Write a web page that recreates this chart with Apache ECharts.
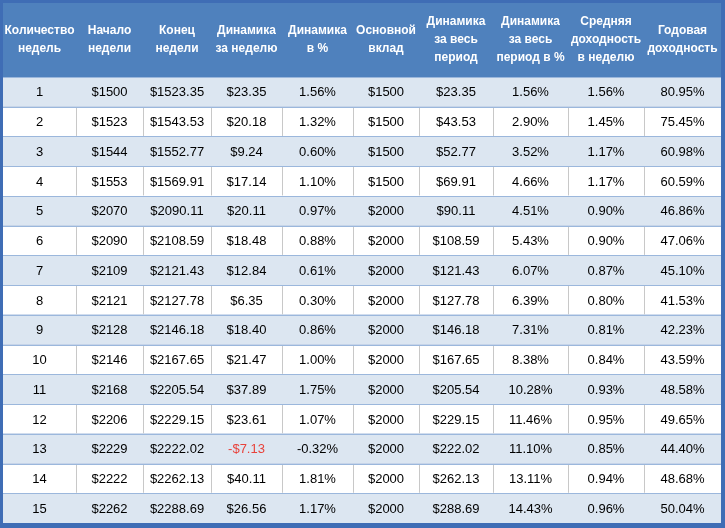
<!DOCTYPE html>
<html>
<head>
<meta charset="utf-8">
<script src="https://cdn.jsdelivr.net/npm/echarts@6/dist/echarts.min.js"></script>
<style>
html,body{margin:0;padding:0;background:#3f6db5;}
#chart{width:725px;height:528px;}
</style>
</head>
<body>
<div id="chart"></div>
<script>
// ---- data ----
const headers = ['Количество\nнедель', 'Начало\nнедели', 'Конец\nнедели', 'Динамика\nза неделю', 'Динамика\nв %', 'Основной\nвклад', 'Динамика\nза весь\nпериод', 'Динамика\nза весь\nпериод в %', 'Средняя\nдоходность\nв неделю', 'Годовая\nдоходность'];
const weeks = [1, 2, 3, 4, 5, 6, 7, 8, 9, 10, 11, 12, 13, 14, 15];
const weekStart = [1500, 1523, 1544, 1553, 2070, 2090, 2109, 2121, 2128, 2146, 2168, 2206, 2229, 2222, 2262];
const weekEnd = [1523.35, 1543.53, 1552.77, 1569.91, 2090.11, 2108.59, 2121.43, 2127.78, 2146.18, 2167.65, 2205.54, 2229.15, 2222.02, 2262.13, 2288.69];
const weekDelta = [23.35, 20.18, 9.24, 17.14, 20.11, 18.48, 12.84, 6.35, 18.40, 21.47, 37.89, 23.61, -7.13, 40.11, 26.56];
const weekPct = [1.56, 1.32, 0.60, 1.10, 0.97, 0.88, 0.61, 0.30, 0.86, 1.00, 1.75, 1.07, -0.32, 1.81, 1.17];
const deposit = [1500, 1500, 1500, 1500, 2000, 2000, 2000, 2000, 2000, 2000, 2000, 2000, 2000, 2000, 2000];
const totalDelta = [23.35, 43.53, 52.77, 69.91, 90.11, 108.59, 121.43, 127.78, 146.18, 167.65, 205.54, 229.15, 222.02, 262.13, 288.69];
const totalPct = [1.56, 2.90, 3.52, 4.66, 4.51, 5.43, 6.07, 6.39, 7.31, 8.38, 10.28, 11.46, 11.10, 13.11, 14.43];
const avgWeekly = [1.56, 1.45, 1.17, 1.17, 0.90, 0.90, 0.87, 0.80, 0.81, 0.84, 0.93, 0.95, 0.85, 0.94, 0.96];
const annual = [80.95, 75.45, 60.98, 60.59, 46.86, 47.06, 45.10, 41.53, 42.23, 43.59, 48.58, 49.65, 44.40, 48.68, 50.04];

// ---- layout (table units) ----
const colEdges = [0, 73, 140, 208, 279, 350, 416, 490, 565, 641, 718];
const tableH = 520;
const headerH = 74;
const rowH = (tableH - headerH) / weeks.length;

const money0 = v => '$' + v;
const money2 = v => (v < 0 ? '-$' : '$') + Math.abs(v).toFixed(2);
const pct = v => v.toFixed(2) + '%';

const cells = [];
headers.forEach((h, c) => cells.push({ col: c, row: 0, text: h, neg: false }));
weeks.forEach((w, i) => {
  const vals = [String(w), money0(weekStart[i]), money2(weekEnd[i]), money2(weekDelta[i]), pct(weekPct[i]),
    money0(deposit[i]), money2(totalDelta[i]), pct(totalPct[i]), pct(avgWeekly[i]), pct(annual[i])];
  vals.forEach((t, c) => cells.push({ col: c, row: i + 1, text: t, neg: c === 3 && weekDelta[i] < 0 }));
});

function rowTop(r) { return r === 0 ? 0 : headerH + (r - 1) * rowH; }
function rowBottom(r) { return r === 0 ? headerH : headerH + r * rowH; }

function renderCell(params, api) {
  const cell = cells[params.dataIndex];
  const p0 = api.coord([colEdges[cell.col], rowTop(cell.row)]);
  const p1 = api.coord([colEdges[cell.col + 1], rowBottom(cell.row)]);
  const isHeader = cell.row === 0;
  const shaded = cell.row % 2 === 1;
  const fill = isHeader ? '#4f81bd' : (shaded ? '#dce6f1' : '#ffffff');
  const children = [{
    type: 'rect',
    shape: { x: p0[0], y: p0[1], width: p1[0] - p0[0], height: p1[1] - p0[1] },
    style: { fill: fill }
  }, {
    type: 'text',
    style: {
      text: cell.text,
      x: (p0[0] + p1[0]) / 2,
      y: (p0[1] + p1[1]) / 2 + (isHeader ? 0 : 1),
      align: 'center',
      verticalAlign: 'middle',
      fill: isHeader ? '#ffffff' : (cell.neg ? '#e8423b' : '#000000'),
      font: isHeader ? 'bold 12px "Liberation Sans", Arial, sans-serif' : '13px "Liberation Sans", Arial, sans-serif',
      lineHeight: 18
    }
  }];
  return { type: 'group', children: children };
}

function renderLines(params, api) {
  const cell = cells[params.dataIndex];
  const children = [];
  if (cell.row >= 1) {
    const p0 = api.coord([colEdges[cell.col], rowTop(cell.row)]);
    const p1 = api.coord([colEdges[cell.col + 1], rowBottom(cell.row)]);
    const yTop = Math.round(p0[1]) + 0.5;
    children.push({
      type: 'line',
      shape: { x1: p0[0], y1: yTop, x2: p1[0], y2: yTop },
      style: { stroke: '#9bb7dc', lineWidth: 1 }
    });
    if (cell.row % 2 === 0 && cell.col > 0) {
      const x = Math.round(p0[0]) + 0.5;
      children.push({
        type: 'line',
        shape: { x1: x, y1: yTop + 0.5, x2: x, y2: p1[1] - 0.5 },
        style: { stroke: '#c8c8c8', lineWidth: 1 }
      });
    }
  }
  return { type: 'group', children: children };
}

const chart = echarts.init(document.getElementById('chart'), null, { renderer: 'canvas' });
chart.setOption({
  backgroundColor: '#3f6db5',
  animation: false,
  grid: { left: 3, right: 4, top: 3, bottom: 5 },
  xAxis: { type: 'value', min: 0, max: colEdges[colEdges.length - 1], show: false },
  yAxis: { type: 'value', min: 0, max: tableH, inverse: true, show: false },
  series: [{
    type: 'custom',
    renderItem: renderCell,
    data: cells.map(c => [c.col, c.row]),
    silent: true
  }, {
    type: 'custom',
    renderItem: renderLines,
    data: cells.map(c => [c.col, c.row]),
    silent: true,
    z: 3
  }]
});
</script>
</body>
</html>
